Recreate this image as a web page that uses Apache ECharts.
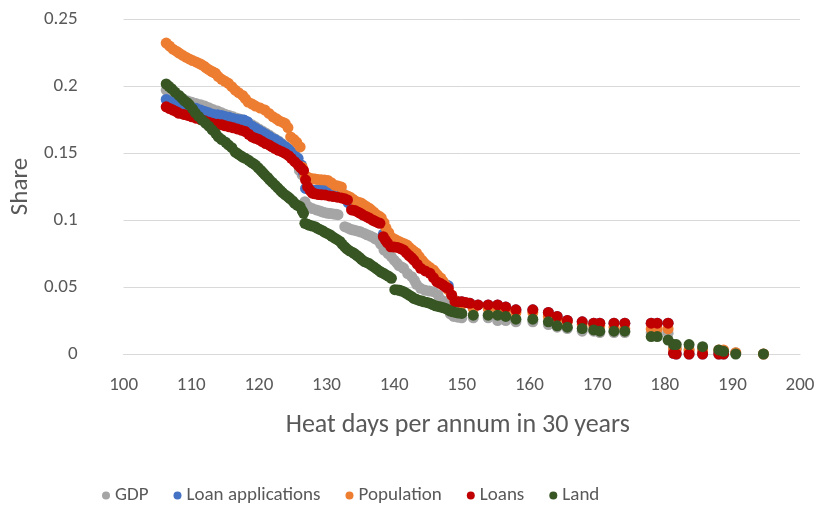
<!DOCTYPE html>
<html>
<head>
<meta charset="utf-8">
<script src="https://cdn.jsdelivr.net/npm/echarts@6/dist/echarts.min.js"></script>
<style>
  html, body { margin: 0; padding: 0; background: #ffffff; }
  #chart { width: 823px; height: 511px; }
</style>
</head>
<body>
<div id="chart"></div>
<script>
// Share of each exposure measure against heat days per annum (30-year horizon)
const xTicks = [100, 110, 120, 130, 140, 150, 160, 170, 180, 190, 200];
const yTicks = [0, 0.05, 0.1, 0.15, 0.2, 0.25];
const seriesNames = ['GDP', 'Loan applications', 'Population', 'Loans', 'Land'];

const gdp = [
  [106.3,.197],[106.8,.1955],[107.3,.194],[107.8,.1925],[108.2,.191],[108.9,.1898],[109.5,.1888],
  [110.1,.1878],[110.7,.187],[111.4,.186],[112.0,.185],[112.6,.1838],[113.2,.1825],[113.9,.1813],
  [114.5,.180],[115.0,.179],[115.6,.178],[116.2,.177],[116.8,.176],[117.3,.1752],[117.8,.1745],
  [118.4,.1728],[119.0,.171],[119.5,.1695],[120.0,.168],[120.5,.1665],[121.0,.165],[121.5,.1635],
  [121.9,.162],[122.4,.1605],[122.9,.159],[123.4,.157],[123.9,.155],[124.4,.152],[124.8,.149],
  [125.2,.1465],[125.5,.143],[126.0,.137],[126.4,.1336],
  [126.8,.1137],[127.3,.110],[127.9,.1085],[128.5,.1075],[129.0,.1068],[129.4,.106],[129.8,.1055],
  [130.2,.105],[130.6,.1048],[131.0,.1045],[131.4,.1042],[131.7,.104],
  [132.7,.095],[133.2,.094],[133.6,.093],[134.0,.0925],[134.4,.092],[134.8,.0915],[135.1,.091],
  [135.6,.090],[136.0,.089],[136.5,.088],[136.9,.087],[137.2,.086],[137.6,.085],
  [138.0,.082],[138.5,.0776],[139.1,.075],[139.6,.0725],[140.0,.070],[140.4,.068],[140.7,.066],
  [141.1,.065],[141.4,.064],[142.0,.060],[142.6,.0577],[143.0,.055],[143.3,.052],[143.9,.049],
  [144.6,.0475],[145.2,.047],[145.8,.0465],[146.5,.044],[147.1,.040],[147.6,.0378],[148.3,.030],
  [148.8,.028],[149.4,.0275],[150.0,.027],[151.7,.027],[153.9,.027],[155.3,.025],
  [156.5,.025],[158.0,.024],[160.5,.024],[162.8,.022],[164.1,.020],[165.6,.019],[167.8,.017],
  [169.5,.017],[170.4,.016],[172.5,.016],[174.1,.016],[178.0,.016],[178.9,.016],[180.5,.0155],
  [181.3,.004],[181.7,.004],[183.6,.003],[185.6,.003],[188.0,.002],[188.7,.002],[190.5,.001],[194.6,0]
];

const loanApplications = [
  [106.3,.190],[106.8,.1885],[107.3,.1875],[107.8,.1868],[108.2,.186],[108.9,.185],[109.5,.1845],
  [110.1,.184],[110.7,.1834],[111.4,.182],[112.0,.181],[112.6,.180],[113.2,.179],[113.9,.1785],
  [114.5,.178],[115.0,.1773],[115.6,.1766],[116.2,.1758],[116.8,.175],[117.3,.1748],[117.8,.1746],
  [118.3,.1734],[119.0,.170],[119.5,.1685],[120.0,.167],[120.5,.1655],[121.0,.164],[121.5,.1625],
  [121.9,.161],[122.4,.160],[122.9,.1584],[123.4,.1565],[123.9,.1547],[124.4,.153],[124.8,.151],
  [125.3,.1485],[125.8,.146],[126.3,.141],[126.6,.135],[126.9,.1236],[127.4,.123],[127.9,.1224],
  [128.5,.1224],[129.0,.1225],[129.6,.1225],[130.2,.1225],[130.7,.1222],[131.2,.122],[131.7,.1215],
  [132.2,.121],[132.7,.116],[133.2,.113],[133.7,.110],[134.2,.109],[134.6,.108],[135.0,.107],
  [135.4,.1057],[135.9,.1045],[136.3,.1035],[136.8,.102],[137.2,.101],[137.6,.100],[137.9,.0995],
  [138.4,.0895],[139.0,.085],[139.5,.082],[140.0,.0818],[140.5,.0815],[141.0,.0805],[141.4,.0796],
  [141.8,.0775],[142.2,.0755],[142.6,.0738],[142.9,.072],[143.4,.069],[143.9,.066],[144.6,.064],
  [145.3,.0622],[145.8,.059],[146.3,.056],[146.8,.0548],[147.2,.0535],[147.6,.052],[148.0,.051],
  [149.0,.040],[150.0,.039],
  [151.2,.0378],[152.4,.0366],[153.9,.0366],[155.3,.0366],[156.5,.035],[158.0,.033],[160.5,.033],
  [162.8,.031],[164.1,.028],[165.6,.025],[167.8,.024],[169.5,.023],[170.4,.023],[172.5,.023],
  [174.1,.023],[178.0,.023],[178.9,.023],[180.5,.023],[181.3,.0005],[181.7,0],[183.6,0],
  [185.6,0],[188.0,0],[188.7,0]
];

const population = [
  [106.3,.232],[106.8,.2298],[107.3,.2275],[107.8,.226],[108.2,.2246],[108.7,.223],[109.2,.2215],
  [109.7,.2202],[110.2,.219],[110.7,.218],[111.1,.217],[111.5,.216],[111.9,.2148],[112.2,.2135],
  [112.6,.2122],[113.0,.211],[113.3,.2102],[113.6,.2095],[114.0,.207],[114.5,.205],[115.0,.2035],
  [115.5,.202],[116.0,.1995],[116.5,.197],[117.0,.195],[117.6,.193],[118.0,.1905],[118.4,.188],
  [119.0,.1865],[119.5,.185],[120.2,.1835],[120.9,.182],[121.5,.1795],[122.1,.177],[122.6,.1755],
  [123.0,.174],[123.5,.173],[123.9,.172],[124.3,.169],
  [124.7,.162],[125.2,.160],[125.6,.158],[126.1,.1545],[126.4,.1396],[126.8,.133],[127.2,.132],
  [127.5,.131],[127.9,.1308],[128.3,.1306],[128.7,.1303],[129.2,.130],[129.7,.1298],[130.2,.1295],
  [130.7,.1278],[131.2,.126],[131.7,.1253],[132.2,.1246],[132.7,.1187],[133.1,.118],[133.5,.117],
  [133.9,.1155],[134.3,.114],[134.7,.1133],[135.1,.1127],[135.5,.1113],[135.9,.110],[136.3,.1088],
  [136.6,.1075],[137.0,.1058],[137.4,.104],[137.8,.1028],[138.1,.1015],[138.5,.098],[138.8,.094],
  [139.2,.0905],[139.5,.0873],[139.9,.086],[140.3,.085],[140.7,.084],[141.1,.083],[141.5,.0822],
  [141.9,.0813],[142.2,.0797],[142.6,.078],[142.9,.0767],[143.3,.0754],[143.7,.0727],[144.1,.070],
  [144.4,.0682],[144.8,.0664],[145.3,.0645],[145.8,.0627],[146.1,.0608],[146.4,.059],[146.9,.0567],
  [147.2,.0543],[147.5,.052],[148.0,.0478],[148.5,.044],[149.0,.040],
  [150.0,.037],[151.7,.034],[153.9,.034],[155.3,.034],[156.5,.033],[158.0,.031],[160.5,.031],
  [162.8,.028],[164.1,.026],[165.6,.024],[167.8,.022],[169.5,.021],[170.4,.021],[172.5,.020],
  [174.1,.019],[178.0,.0187],[178.9,.0187],[180.5,.0187],[181.3,.0037],[181.7,.0037],[183.6,.003],
  [185.6,.003],[188.0,.003],[188.7,.003],[190.5,.001],[194.6,0]
];

const loans = [
  [106.3,.1845],[106.8,.1832],[107.3,.182],[107.8,.1808],[108.2,.1796],[108.9,.1788],[109.5,.178],
  [110.1,.177],[110.7,.176],[111.4,.175],[112.0,.174],[112.6,.173],[113.2,.172],[113.9,.1715],
  [114.5,.171],[115.0,.1703],[115.6,.1696],[116.2,.1688],[116.8,.168],[117.4,.167],[118.0,.166],
  [118.5,.164],[119.0,.162],[119.5,.161],[120.0,.160],[120.5,.1585],[121.0,.157],[121.5,.156],
  [121.9,.1547],[122.4,.1533],[122.9,.152],[123.4,.151],[123.9,.1497],[124.4,.148],[124.8,.146],
  [125.3,.1435],[125.8,.141],[126.2,.139],[126.6,.137],[126.9,.130],[127.2,.1248],[127.6,.122],
  [127.9,.120],[128.3,.1195],[128.8,.119],[129.3,.1188],[129.8,.1187],[130.4,.118],[131.0,.1175],
  [131.6,.117],[132.2,.1165],[132.7,.1158],[133.1,.115],[133.7,.1075],[134.2,.107],[134.6,.106],
  [135.0,.105],[135.4,.1037],[135.9,.1025],[136.3,.1015],[136.8,.100],[137.2,.099],[137.6,.098],
  [137.9,.0975],[138.4,.0875],[138.7,.085],[139.0,.083],[139.5,.080],[140.0,.0798],[140.5,.0795],
  [141.0,.0785],[141.4,.0776],[141.8,.0755],[142.2,.0735],[142.6,.0718],[142.9,.070],[143.4,.067],
  [143.9,.064],[144.6,.062],[145.3,.0602],[145.8,.057],[146.3,.054],[146.8,.0528],[147.2,.0515],
  [147.6,.050],[148.0,.049],[148.5,.044],[149.0,.039],[149.5,.039],[150.0,.039],[150.6,.0385],[151.2,.0378],
  [152.4,.0366],[153.9,.0366],[155.3,.0366],[156.5,.035],[158.0,.033],[160.5,.033],[162.8,.031],
  [164.1,.028],[165.6,.025],[167.8,.024],[169.5,.023],[170.4,.023],[172.5,.023],[174.1,.023],
  [178.0,.023],[178.9,.023],[180.5,.023],[181.3,.0005],[181.7,0],[183.6,0],[185.6,0],[188.0,0],[188.7,0]
];

const land = [
  [106.3,.2015],[106.7,.1998],[107.1,.198],[107.6,.1955],[108.2,.193],[108.6,.191],[109.0,.189],
  [109.4,.1875],[109.7,.186],[110.2,.183],[110.6,.180],[111.1,.1773],[111.6,.1746],[112.1,.1723],
  [112.6,.170],[113.1,.1673],[113.6,.1647],[114.0,.162],[114.5,.160],[115.1,.158],[115.5,.156],
  [116.0,.154],[116.5,.1507],[116.9,.1494],[117.3,.148],[117.6,.147],[118.0,.146],[118.5,.1445],
  [118.9,.143],[119.2,.142],[119.5,.141],[119.9,.139],[120.3,.137],[120.6,.1353],[120.9,.1336],
  [121.3,.1318],[121.6,.130],[122.0,.128],[122.4,.126],[122.8,.124],[123.2,.122],[123.5,.1204],
  [123.9,.1187],[124.3,.1173],[124.6,.116],[125.0,.1142],[125.3,.1124],[125.7,.111],[126.1,.110],
  [126.4,.107],[126.6,.105],[126.8,.0975],[127.2,.0968],[127.5,.096],[127.9,.0955],[128.3,.095],
  [128.6,.094],[129.0,.093],[129.4,.092],[129.7,.091],[130.1,.090],[130.5,.089],[130.8,.0878],
  [131.2,.0865],[131.6,.0853],[132.0,.084],[132.3,.082],[132.7,.080],[133.0,.0785],[133.4,.077],
  [133.8,.076],[134.1,.075],[134.5,.0735],[134.9,.072],[135.2,.0705],[135.6,.069],[135.9,.0683],
  [136.3,.0675],[136.6,.0663],[137.0,.065],[137.4,.0635],[137.8,.062],[138.1,.061],[138.5,.060],
  [138.8,.059],[139.2,.058],[139.6,.0565],[140.1,.048],[140.5,.0478],[140.8,.0475],[141.1,.047],
  [141.4,.0465],[141.8,.0453],[142.2,.044],[142.6,.0428],[142.9,.0415],[143.3,.0408],[143.7,.040],
  [144.1,.0395],[144.4,.039],[144.9,.0384],[145.3,.0378],[145.7,.0369],[146.1,.036],[146.5,.0355],
  [146.9,.035],[147.3,.0345],[147.6,.034],[148.0,.033],[148.3,.032],[148.7,.0315],[149.1,.031],
  [149.5,.0306],[150.0,.0303],[151.7,.029],[153.9,.029],[155.3,.029],
  [156.5,.028],[158.0,.026],[160.5,.026],[162.8,.024],[164.1,.021],[165.6,.020],[167.8,.019],
  [169.5,.018],[170.4,.017],[172.5,.017],[174.1,.017],[178.0,.013],[178.9,.013],[180.5,.0104],
  [181.3,.007],[181.7,.007],[183.6,.007],[185.6,.0055],[188.0,.003],[188.7,.002],[190.5,0],[194.6,0]
];

const seriesData = [gdp, loanApplications, population, loans, land];
const colors = ['#A5A5A5', '#4472C4', '#ED7D31', '#C00000', '#375623'];

const FONT = 'Carlito, Lato, sans-serif';
const TEXT = '#595959';

const chart = echarts.init(document.getElementById('chart'), null, { renderer: 'canvas' });
chart.setOption({
  animation: false,
  backgroundColor: '#ffffff',
  color: colors,
  grid: { left: 117, right: 23, top: 19, bottom: 157 },
  legend: {
    left: 97,
    bottom: 1,
    icon: 'circle',
    itemWidth: 8,
    itemHeight: 8,
    itemGap: 25,
    textStyle: { fontFamily: FONT, fontSize: 19, color: TEXT },
    data: seriesNames
  },
  xAxis: {
    type: 'value',
    min: xTicks[0],
    max: xTicks[xTicks.length - 1],
    interval: xTicks[1] - xTicks[0],
    name: 'Heat days per annum in 30 years',
    nameLocation: 'middle',
    nameGap: 58,
    nameTextStyle: { fontFamily: FONT, fontSize: 26, color: TEXT, padding: [0, 8, 0, 0] },
    axisLine: { show: true, lineStyle: { color: '#D9D9D9', width: 1 } },
    axisTick: { show: false },
    splitLine: { show: false },
    axisLabel: { fontFamily: FONT, fontSize: 19, color: TEXT, margin: 22 }
  },
  yAxis: {
    type: 'value',
    min: yTicks[0],
    max: yTicks[yTicks.length - 1],
    interval: yTicks[1] - yTicks[0],
    name: 'Share',
    nameLocation: 'middle',
    nameGap: 88,
    nameRotate: 90,
    nameTextStyle: { fontFamily: FONT, fontSize: 25, color: TEXT },
    axisLine: { show: false },
    axisTick: { show: false },
    splitLine: { show: true, lineStyle: { color: '#D9D9D9', width: 1 } },
    axisLabel: {
      fontFamily: FONT, fontSize: 19, color: TEXT, margin: 46,
      formatter: v => String(Math.round(v * 100) / 100)
    }
  },
  series: seriesNames.map((name, i) => ({
    name: name,
    type: 'scatter',
    symbol: 'circle',
    symbolSize: 11,
    data: seriesData[i],
    itemStyle: { color: colors[i], opacity: 1 },
    z: 2 + i
  }))
});
</script>
</body>
</html>
